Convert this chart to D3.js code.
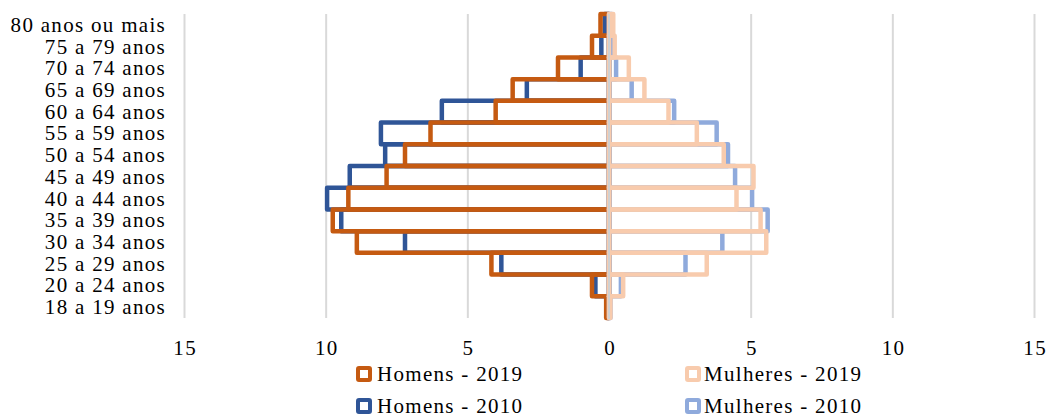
<!DOCTYPE html>
<html>
<head>
<meta charset="utf-8">
<script src="https://cdn.jsdelivr.net/npm/d3@7"></script>
<style>
  html, body { margin: 0; padding: 0; background: #fff; }
  svg { display: block; }
  text { font-family: "Liberation Serif", "Times New Roman", serif; fill: #000; }
</style>
</head>
<body>
<svg id="chart" width="1046" height="418"></svg>
<script>
const categories = ["80 anos ou mais","75 a 79 anos","70 a 74 anos","65 a 69 anos","60 a 64 anos","55 a 59 anos","50 a 54 anos","45 a 49 anos","40 a 44 anos","35 a 39 anos","30 a 34 anos","25 a 29 anos","20 a 24 anos","18 a 19 anos"];
const homens2019   = [0.3, 0.6, 1.8, 3.4, 4.0, 6.3, 7.2, 7.85, 9.2, 9.75, 8.9, 4.15, 0.6, 0.1];
const homens2010   = [0.15, 0.27, 1.0, 2.9, 5.9, 8.05, 7.9, 9.15, 9.95, 9.45, 7.2, 3.8, 0.48, 0.05];
const mulheres2019 = [0.15, 0.2, 0.7, 1.25, 2.1, 3.1, 4.05, 5.1, 4.5, 5.35, 5.55, 3.45, 0.5, 0.05];
const mulheres2010 = [0.1, 0.1, 0.25, 0.8, 2.3, 3.8, 4.2, 4.45, 5.05, 5.6, 4.0, 2.7, 0.42, 0.05];
const tickValues = [-15, -10, -5, 0, 5, 10, 15];
const legendItems = [
  {name: "Homens - 2019", color: "#C55A11"},
  {name: "Mulheres - 2019", color: "#F8CBAD"},
  {name: "Homens - 2010", color: "#2F5597"},
  {name: "Mulheres - 2010", color: "#8FAADC"}
];

const svg = d3.select("#chart");
const x = d3.scaleLinear().domain([-15, 15]).range([184, 1034]);
const y = d3.scaleBand().domain(categories).range([14, 318]).padding(0);
const fontSize = 21, ls = 1.3;

// gridlines
const grid = svg.append("g").attr("transform", "translate(0,318)")
  .call(d3.axisBottom(x).tickValues(tickValues).tickSize(-(318 - 14)).tickFormat(""));
grid.select(".domain").remove();
grid.selectAll("line").attr("stroke", "#D9D9D9").attr("stroke-width", 2);

// bars
function drawSeries(vals, color, side) {
  svg.append("g").selectAll("rect").data(vals).join("rect")
    .attr("x", (d) => side < 0 ? x(-d) : x(0))
    .attr("width", (d) => side < 0 ? x(0) - x(-d) : x(d) - x(0))
    .attr("y", (d, i) => y(categories[i]))
    .attr("height", y.bandwidth())
    .attr("fill", "none")
    .attr("stroke", color)
    .attr("stroke-width", 4.5)
    .attr("stroke-linejoin", "round");
}
drawSeries(homens2010, "#2F5597", -1);
drawSeries(homens2019, "#C55A11", -1);
drawSeries(mulheres2010, "#8FAADC", 1);
drawSeries(mulheres2019, "#F8CBAD", 1);

// zero axis line overlay
svg.append("line")
  .attr("x1", x(0)).attr("x2", x(0)).attr("y1", y.range()[0]).attr("y2", y.range()[1] + 1)
  .attr("stroke", "#D0D0D0").attr("stroke-width", 2);

// x tick labels
const xa = svg.append("g").attr("transform", "translate(0,318)")
  .call(d3.axisBottom(x).tickValues(tickValues).tickSize(0).tickPadding(0).tickFormat((d) => Math.abs(d)));
xa.select(".domain").remove();
xa.selectAll("text")
  .attr("y", 37).attr("dy", null)
  .attr("dx", ls / 2)
  .style("font-size", fontSize + "px").style("letter-spacing", ls + "px")
  .attr("font-family", null);

// category labels
const ya = svg.append("g").attr("transform", "translate(166,0)")
  .call(d3.axisLeft(y).tickSize(0).tickPadding(0));
ya.select(".domain").remove();
ya.selectAll("text")
  .attr("dy", null).attr("y", 7)
  .attr("text-anchor", "end")
  .style("font-size", fontSize + "px").style("letter-spacing", ls + "px")
  .attr("font-family", null);

// legend
const legPos = [
  {sx: 358, tx: 377, y: 374},
  {sx: 687, tx: 704, y: 374},
  {sx: 358, tx: 377, y: 406},
  {sx: 687, tx: 704, y: 406}
];
const leg = svg.append("g").selectAll("g").data(legendItems).join("g");
leg.append("rect")
  .attr("x", (d, i) => legPos[i].sx)
  .attr("y", (d, i) => legPos[i].y - 6)
  .attr("width", 12).attr("height", 12)
  .attr("fill", "#fff")
  .attr("stroke", (d) => d.color)
  .attr("stroke-width", 4)
  .attr("rx", 1);
leg.append("text")
  .attr("x", (d, i) => legPos[i].tx)
  .attr("y", (d, i) => legPos[i].y + 7)
  .style("font-size", fontSize + "px").style("letter-spacing", ls + "px")
  .text((d) => d.name);
</script>
</body>
</html>
